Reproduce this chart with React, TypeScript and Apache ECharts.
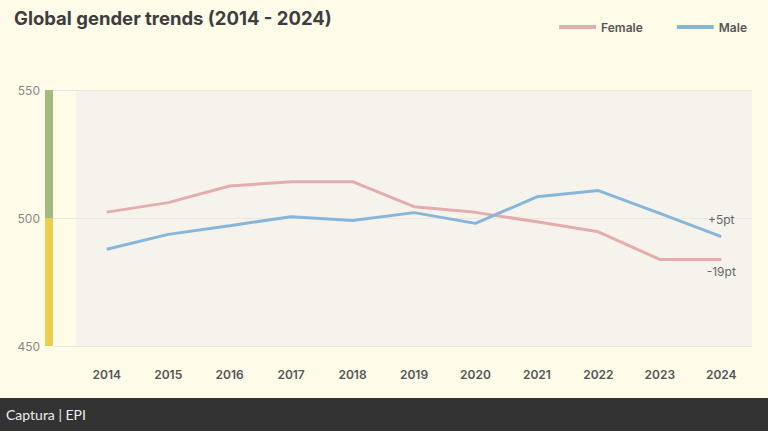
import React, { useEffect, useRef } from "react";
import * as echarts from "echarts";

const years = ["2014", "2015", "2016", "2017", "2018", "2019", "2020", "2021", "2022", "2023", "2024"];
const female = [502.3, 506, 512.5, 514.2, 514.2, 504.4, 502.2, 498.5, 494.6, 483.8, 483.8];
const male = [487.8, 493.6, 497, 500.5, 499, 502.1, 497.9, 508.3, 510.7, 501.8, 492.7];
const femaleChange = "-19pt";
const maleChange = "+5pt";
const yTicks = [450, 500, 550];
const belowBand = [500];
const aboveBand = [50];

const BG = "#fffbe9";
const PINK = "#e4adad";
const BLUE = "#86b6dc";

export default function App() {
  const ref = useRef<HTMLDivElement>(null);
  useEffect(() => {
    if (!ref.current) return;
    const chart = echarts.init(ref.current, null, { renderer: "svg" });
    const font = "Inter, 'Noto Sans', sans-serif";
    const last = years.length - 1;
    const withEndLabel = (arr: number[], text: string, pos: string, dist: number) =>
      arr.map((v, i) =>
        i === last
          ? { value: v, label: { show: true, formatter: text, position: pos, distance: dist, color: "#666", fontSize: 12, fontFamily: font } }
          : v
      );
    chart.setOption({
      animation: false,
      backgroundColor: BG,
      title: {
        text: "Global gender trends (2014 - 2024)",
        left: 14,
        top: 8,
        padding: 0,
        textStyle: { fontSize: 18.5, fontWeight: 700, color: "#3d3d3d", fontFamily: font },
      },
      legend: {
        right: 16,
        top: 16,
        itemWidth: 37,
        itemHeight: 4,
        itemGap: 34,
        icon: "rect",
        textStyle: { fontSize: 12, fontWeight: 600, color: "#555", fontFamily: font },
        data: ["Female", "Male"],
      },
      grid: [
        { left: 76, right: 16, top: 90, height: 256, show: true, backgroundColor: "#f6f3ec", borderWidth: 0 },
        { left: 45, width: 8, top: 90, height: 256 },
        { left: 53, width: 23, top: 90, height: 256 },
      ],
      xAxis: [
        {
          gridIndex: 0,
          type: "category",
          data: years,
          axisLine: { show: false },
          axisTick: { show: false },
          axisLabel: { color: "#555", fontSize: 12, fontWeight: 600, margin: 22, fontFamily: font },
        },
        { gridIndex: 1, type: "category", data: [""], show: false },
        { gridIndex: 2, type: "category", data: [""], show: false },
      ],
      yAxis: [
        {
          gridIndex: 0,
          type: "value",
          min: yTicks[0],
          max: yTicks[yTicks.length - 1],
          interval: 50,
          axisLabel: { show: false },
          axisLine: { show: false },
          axisTick: { show: false },
          splitLine: { lineStyle: { color: "#ebe8e1", width: 1 } },
        },
        {
          gridIndex: 1,
          type: "value",
          min: yTicks[0],
          max: yTicks[yTicks.length - 1],
          interval: 50,
          axisLabel: { color: "#888", fontSize: 12, margin: 5, fontFamily: font },
          axisLine: { show: false },
          axisTick: { show: false },
          splitLine: { show: false },
        },
        {
          gridIndex: 2,
          type: "value",
          min: yTicks[0],
          max: yTicks[yTicks.length - 1],
          interval: 50,
          axisLabel: { show: false },
          axisLine: { show: false },
          axisTick: { show: false },
          splitLine: { lineStyle: { color: "#ebe8e1", width: 1 } },
        },
      ],
      series: [
        {
          name: "below",
          type: "bar",
          xAxisIndex: 1,
          yAxisIndex: 1,
          stack: "band",
          barWidth: "100%",
          data: belowBand,
          itemStyle: { color: "#ebcf4e" },
          silent: true,
        },
        {
          name: "above",
          type: "bar",
          xAxisIndex: 1,
          yAxisIndex: 1,
          stack: "band",
          barWidth: "100%",
          data: aboveBand,
          itemStyle: { color: "#a3b97e" },
          silent: true,
        },
        {
          name: "Female",
          type: "line",
          data: withEndLabel(female, femaleChange, "bottom", 6),
          showSymbol: true,
          symbol: "circle",
          symbolSize: 0,
          lineStyle: { color: PINK, width: 3 },
          itemStyle: { color: PINK },
          z: 3,
        },
        {
          name: "Male",
          type: "line",
          data: withEndLabel(male, maleChange, "top", 11),
          showSymbol: true,
          symbol: "circle",
          symbolSize: 0,
          lineStyle: { color: BLUE, width: 3 },
          itemStyle: { color: BLUE },
          z: 4,
        },
      ],
    });
    return () => chart.dispose();
  }, []);
  return (
    <div style={{ position: "fixed", left: 0, top: 0, width: 768, height: 431, background: BG }}>
      <div ref={ref} style={{ width: 768, height: 398 }} />
      <div
        style={{
          height: 33,
          background: "#333333",
          color: "#eeeeee",
          fontFamily: "Lato, 'Open Sans', sans-serif",
          fontSize: 14,
          lineHeight: "33px",
          paddingLeft: 6,
        }}
      >
        Captura | EPI
      </div>
    </div>
  );
}
